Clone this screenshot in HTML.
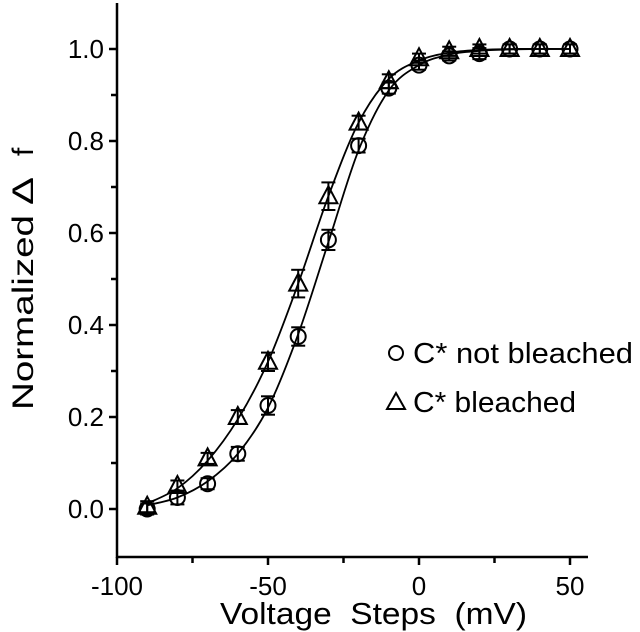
<!DOCTYPE html>
<html><head><meta charset="utf-8"><style>
html,body{margin:0;padding:0;background:#fff}
svg{display:block}
text{font-family:"Liberation Sans",Arial,sans-serif;fill:#000}
</style></head><body>
<svg id="chart" width="640" height="632" viewBox="0 0 640 632" xmlns="http://www.w3.org/2000/svg"></svg>
<script>
const voltages = [-90,-80,-70,-60,-50,-40,-30,-20,-10,0,10,20,30,40,50];
const notBleached = [0.0,0.025,0.055,0.12,0.225,0.375,0.585,0.79,0.915,0.965,0.985,0.99,1.0,1.0,1.0];
const notBleachedErr = [0.012,0.015,0.012,0.015,0.02,0.02,0.022,0.015,0.012,0.01,0.01,0.012,0.01,0.01,0.01];
const bleached = [0.005,0.05,0.11,0.2,0.32,0.49,0.68,0.84,0.93,0.98,0.995,1.0,1.0,1.0,1.0];
const bleachedErr = [0.012,0.012,0.012,0.015,0.02,0.03,0.03,0.015,0.015,0.01,0.01,0.01,0.01,0.01,0.01];
const fitNotBleached = [0.008,0.025,0.06,0.12,0.22,0.38,0.58,0.78,0.91,0.965,0.988,0.996,0.999,1.0,1.0];
const fitBleached = [0.012,0.045,0.105,0.195,0.32,0.49,0.68,0.84,0.935,0.975,0.992,0.998,1.0,1.0,1.0];
const xTicks = [-100,-50,0,50];
const yTicks = [0.0,0.2,0.4,0.6,0.8,1.0];

const NS='http://www.w3.org/2000/svg';
const svg=document.getElementById('chart');
const X=v=>419+3.02*v;
const Y=f=>509-460*f;
function el(tag,attrs,parent){const e=document.createElementNS(NS,tag);for(const k in attrs)e.setAttribute(k,attrs[k]);(parent||svg).appendChild(e);return e;}

const axes=el('g',{stroke:'#000','stroke-width':2.5,fill:'none'});


el('line',{x1:117,y1:3,x2:117,y2:558},axes);
el('line',{x1:116,y1:557,x2:588,y2:557},axes);
for(let v=-100;v<=55;v+=25){el('line',{x1:X(v),y1:557,x2:X(v),y2:v%50===0?565:563},axes);}
for(let f=0;f<=1.05;f+=0.1){el('line',{x1:117,y1:Y(f),x2:Math.abs(f*5-Math.round(f*5))<1e-6?109:111,y2:Y(f)},axes);}
xTicks.forEach(v=>{const t=el('text',{x:X(v),y:595,'text-anchor':'middle','font-size':26});t.textContent=v;

});
yTicks.forEach(f=>{const t=el('text',{x:104,y:Y(f)+9,'text-anchor':'end','font-size':26});t.textContent=f.toFixed(1);

});
const xt=el('text',{x:220,y:624,'font-size':31,textLength:307,lengthAdjust:'spacingAndGlyphs'});xt.textContent='Voltage\u00a0\u00a0Steps\u00a0\u00a0(mV)';


const yg=el('g',{transform:'rotate(-90)'});


const y1=el('text',{x:-410,y:33,'font-size':30,textLength:195,lengthAdjust:'spacingAndGlyphs'},yg);y1.textContent='Normalized';
const y2=el('text',{x:-205,y:33,'font-size':30,textLength:28,lengthAdjust:'spacingAndGlyphs'},yg);y2.textContent='\u0394';
const y3=el('text',{x:-156,y:33,'font-size':30},yg);y3.textContent='f';

function fit(vals,name){const pts=voltages.map((v,i)=>[X(v),Y(vals[i])]);let d='M'+pts[0].join(',');
for(let i=0;i<pts.length-1;i++){const p0=pts[Math.max(0,i-1)],p1=pts[i],p2=pts[i+1],p3=pts[Math.min(pts.length-1,i+2)];
const c1=[p1[0]+(p2[0]-p0[0])/6,p1[1]+(p2[1]-p0[1])/6],c2=[p2[0]-(p3[0]-p1[0])/6,p2[1]-(p3[1]-p1[1])/6];
d+=`C${c1[0].toFixed(1)},${c1[1].toFixed(1)} ${c2[0].toFixed(1)},${c2[1].toFixed(1)} ${p2[0].toFixed(1)},${p2[1].toFixed(1)}`;}
const pth=el('path',{d:d,stroke:'#000','stroke-width':1.8,fill:'none'});

}
fit(fitNotBleached,'fit-curve-not-bleached');
fit(fitBleached,'fit-curve-bleached');

function errbar(x,y,e,g){el('line',{x1:x,y1:Y(y-e),x2:x,y2:Y(y+e)},g);el('line',{x1:x-7,y1:Y(y-e),x2:x+7,y2:Y(y-e)},g);el('line',{x1:x-7,y1:Y(y+e),x2:x+7,y2:Y(y+e)},g);}
function tri(cx,cy,g){return el('path',{d:`M${cx},${cy-10}L${cx+9},${cy+7}L${cx-9},${cy+7}Z`},g);}

const g1=el('g',{stroke:'#000','stroke-width':2,fill:'none'});


voltages.forEach((v,i)=>{errbar(X(v),notBleached[i],notBleachedErr[i],g1);const c=el('circle',{cx:X(v),cy:Y(notBleached[i]),r:7.5},g1);

});
const g2=el('g',{stroke:'#000','stroke-width':2,fill:'none'});


voltages.forEach((v,i)=>{errbar(X(v),bleached[i],bleachedErr[i],g2);const t=tri(X(v),Y(bleached[i]),g2);

});

const lg=el('g',{});


const lc=el('circle',{cx:396,cy:353,r:7,stroke:'#000','stroke-width':2,fill:'none'},lg);


const lt=el('path',{d:'M396,393L405,409L387,409Z',stroke:'#000','stroke-width':2,fill:'none'},lg);


const l1=el('text',{x:413,y:363,'font-size':29,textLength:220,lengthAdjust:'spacingAndGlyphs'},lg);l1.textContent='C* not bleached';


const l2=el('text',{x:413,y:412,'font-size':29,textLength:163,lengthAdjust:'spacingAndGlyphs'},lg);l2.textContent='C* bleached';


</script>
</body></html>
